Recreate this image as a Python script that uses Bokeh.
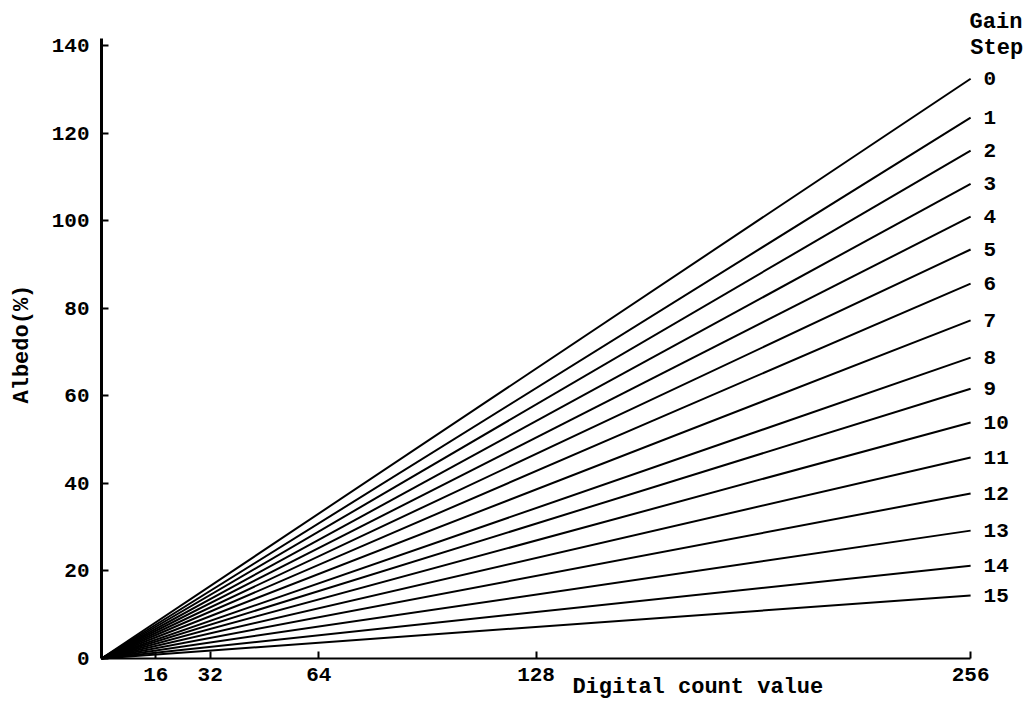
import math
from bokeh.plotting import figure
from bokeh.models import ColumnDataSource, Label, FixedTicker, Range1d, LinearAxis
from bokeh.core.properties import value
from bokeh.embed import file_html
from bokeh.resources import INLINE

# ---- data ----
gain_steps = ["0", "1", "2", "3", "4", "5", "6", "7",
              "8", "9", "10", "11", "12", "13", "14", "15"]
albedo_at_256 = [132.4, 123.5, 116.0, 108.4, 100.9, 93.4, 85.6, 77.2,
                 68.7, 61.6, 53.9, 45.9, 37.7, 29.2, 21.2, 14.4]
count_start = 0
count_end = 256
x_ticks = [16, 32, 64, 128, 256]
y_ticks = [0, 20, 40, 60, 80, 100, 120, 140]
y_axis_top = 141.6

FONT = "Liberation Mono"

W, H = 1030, 701
X0, Y0 = 101, 658          # pixel position of the origin
SX, SY = 3.395, 4.379      # pixels per data unit

p = figure(width=W, height=H,
           x_range=Range1d(-X0 / SX, (W - X0) / SX),
           y_range=Range1d(-(H - Y0) / SY, Y0 / SY),
           x_axis_location=None, y_axis_location=None,
           output_backend="svg", toolbar_location=None,
           min_border=0)
p.outline_line_color = None
p.xgrid.visible = False
p.ygrid.visible = False

src = ColumnDataSource(dict(
    xs=[[count_start, count_end] for _ in albedo_at_256],
    ys=[[0, a] for a in albedo_at_256],
    xe=[count_end] * len(albedo_at_256),
    ye=albedo_at_256,
    lab=gain_steps,
))
p.multi_line("xs", "ys", source=src, line_color="black", line_width=2)
p.text(x="xe", y="ye", text="lab", source=src, x_offset=13,
       text_baseline="middle", text_align="left",
       text_font=value(FONT), text_font_style="bold",
       text_font_size="21px", text_color="black")

# axes at the origin
xaxis = LinearAxis(fixed_location=0, bounds=(count_start, count_end),
                   ticker=FixedTicker(ticks=x_ticks))
yaxis = LinearAxis(fixed_location=0, bounds=(0, y_axis_top),
                   ticker=FixedTicker(ticks=y_ticks))
for ax in (xaxis, yaxis):
    ax.major_tick_in = 7
    ax.major_tick_out = 0
    ax.minor_tick_line_color = None
    ax.axis_line_color = "black"
    ax.major_tick_line_color = "black"
    ax.major_tick_line_width = 2
    ax.major_label_text_font = FONT
    ax.major_label_text_font_style = "bold"
    ax.major_label_text_font_size = "21px"
    ax.major_label_text_color = "black"
xaxis.major_label_standoff = 9
yaxis.major_label_standoff = 12
xaxis.axis_line_width = 2
yaxis.axis_line_width = 3
p.add_layout(xaxis, "below")
p.add_layout(yaxis, "left")

# titles
p.add_layout(Label(x=138.7, y=-6.6, text="Digital count value", text_font=FONT,
                   text_font_style="bold", text_font_size="22px", text_color="black",
                   text_baseline="middle", text_align="left"))
p.add_layout(Label(x=-23.3, y=71.8, text="Albedo(%)", text_font=FONT,
                   text_font_style="bold", text_font_size="22px", text_color="black",
                   text_baseline="middle", text_align="center", angle=math.pi / 2))
p.add_layout(Label(x=255.7, y=145.2, text="Gain", text_font=FONT,
                   text_font_style="bold", text_font_size="22px", text_color="black",
                   text_baseline="middle", text_align="left"))
p.add_layout(Label(x=255.9, y=139.3, text="Step", text_font=FONT,
                   text_font_style="bold", text_font_size="22px", text_color="black",
                   text_baseline="middle", text_align="left"))

open("out.html", "w").write(file_html(p, INLINE))
